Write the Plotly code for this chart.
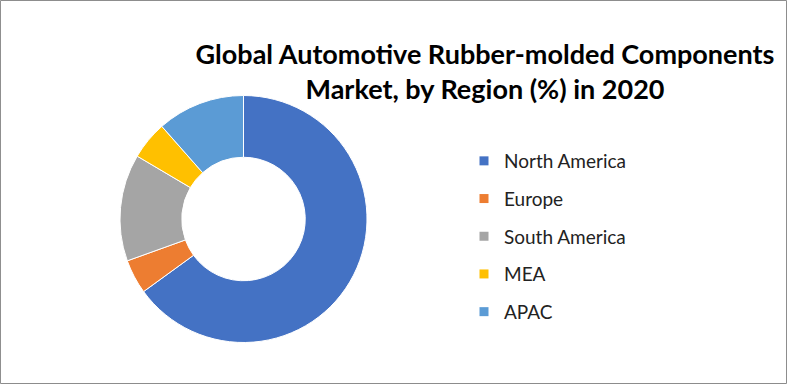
import plotly.graph_objects as go

regions = ["North America", "Europe", "South America", "MEA", "APAC"]
shares = [65.0, 4.5, 14.0, 5.0, 11.5]
colors = ["#4472C4", "#ED7D31", "#A5A5A5", "#FFC000", "#5B9BD5"]
title_text = "Global Automotive Rubber-molded Components<br>Market, by Region (%) in 2020"

W, H = 787, 384
cx, cy, r = 243.5, 219.0, 123.5

fig = go.Figure()
fig.add_trace(go.Pie(
    labels=regions, values=shares, sort=False, direction="clockwise", rotation=0,
    hole=0.5, textinfo="none", hoverinfo="label+percent", showlegend=False,
    marker=dict(colors=colors, line=dict(color="white", width=1)),
    domain=dict(x=[(cx - r) / W, (cx + r) / W], y=[1 - (cy + r) / H, 1 - (cy - r) / H]),
))
for i, (name, col) in enumerate(zip(regions, colors)):
    fig.add_trace(go.Scatter(
        x=[None], y=[None], mode="markers", name=name, legendgroup=name,
        marker=dict(symbol="square", size=9, color=col), showlegend=True,
    ))

fig.update_layout(
    width=W, height=H, margin=dict(l=0, r=0, t=0, b=0),
    paper_bgcolor="white", plot_bgcolor="white",
    xaxis=dict(visible=False), yaxis=dict(visible=False),
    font=dict(family="Lato, Open Sans, sans-serif", color="#222"),
    title=dict(text=title_text, x=485 / W, xanchor="center", y=1 - 64 / H, yanchor="top",
               font=dict(family="Lato, Open Sans, sans-serif", size=27, color="black", weight="bold")),
    legend=dict(x=464 / W, xanchor="left", y=1 - 142 / H, yanchor="top",
                font=dict(size=19, color="#222"), tracegroupgap=10,
                itemsizing="trace", bgcolor="rgba(0,0,0,0)"),
    shapes=[dict(type="rect", xref="paper", yref="paper", x0=0.0006, x1=0.9994, y0=0.0013, y1=0.9987,
                 line=dict(color="#8c8c8c", width=1))],
)
fig.write_html("out.html")
